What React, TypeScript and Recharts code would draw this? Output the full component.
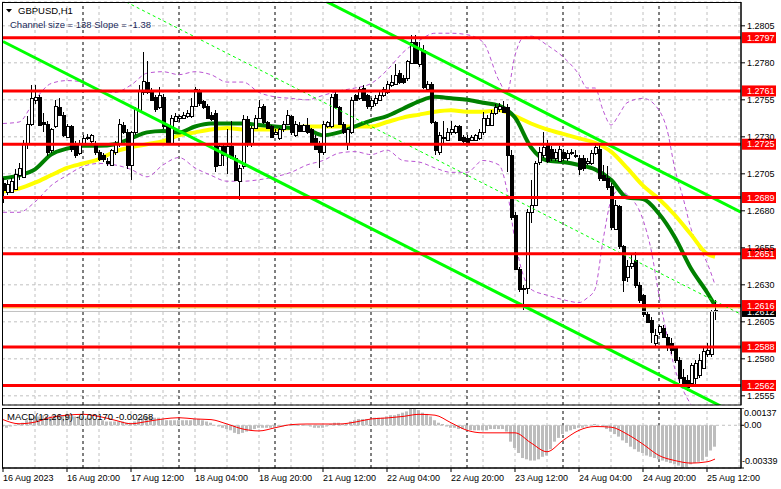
import React from 'react';
import { ComposedChart, Bar, Line, XAxis, YAxis, CartesianGrid, ReferenceLine } from 'recharts';

const FONT = '"Liberation Sans", Arial, sans-serif';

// ---- candles (H1 GBPUSD) ----
const opens = [
  1.2699, 1.2693, 1.2693, 1.2695, 1.2704, 1.2703, 1.2725, 1.2739, 1.2755, 1.2757,
  1.2740, 1.2739, 1.2721, 1.2737, 1.2750, 1.2745, 1.2730, 1.2737, 1.2725, 1.2719,
  1.2726, 1.2729, 1.2727, 1.2725, 1.2720, 1.2718, 1.2714, 1.2711, 1.2720, 1.2725,
  1.2738, 1.2733, 1.2711, 1.2733, 1.2748, 1.2760, 1.2767, 1.2761, 1.2757, 1.2750,
  1.2757, 1.2737, 1.2726, 1.2741, 1.2743, 1.2743, 1.2744, 1.2744, 1.2751, 1.2760,
  1.2754, 1.2751, 1.2745, 1.2746, 1.2711, 1.2724, 1.2718, 1.2724, 1.2716, 1.2700,
  1.2710, 1.2742, 1.2725, 1.2736, 1.2743, 1.2751, 1.2740, 1.2737, 1.2732, 1.2729,
  1.2735, 1.2739, 1.2744, 1.2731, 1.2738, 1.2734, 1.2738, 1.2735, 1.2729, 1.2726,
  1.2720, 1.2737, 1.2737, 1.2759, 1.2750, 1.2739, 1.2726, 1.2733, 1.2758, 1.2756,
  1.2763, 1.2758, 1.2751, 1.2753, 1.2755, 1.2758, 1.2760, 1.2765, 1.2766, 1.2773,
  1.2770, 1.2770, 1.2780, 1.2794, 1.2779, 1.2789, 1.2762, 1.2766, 1.2740, 1.2720,
  1.2729, 1.2728, 1.2733, 1.2733, 1.2737, 1.2730, 1.2729, 1.2728, 1.2728, 1.2729,
  1.2733, 1.2738, 1.2738, 1.2746, 1.2749, 1.2750, 1.2750, 1.2718, 1.2677, 1.2641,
  1.2627, 1.2628, 1.2679, 1.2684, 1.2713, 1.2718, 1.2725, 1.2722, 1.2716, 1.2714,
  1.2720, 1.2716, 1.2719, 1.2718, 1.2716, 1.2716, 1.2712, 1.2712, 1.2719, 1.2722,
  1.2704, 1.2702, 1.2697, 1.2668, 1.2683, 1.2656, 1.2635, 1.2643, 1.2647, 1.2630,
  1.2623, 1.2610, 1.2606, 1.2591, 1.2598, 1.2601, 1.2595, 1.2591, 1.2587, 1.2579,
  1.2568, 1.2566, 1.2564, 1.2567, 1.2569, 1.2574, 1.2583, 1.2583, 1.2613,
];
const highs = [
  1.2702, 1.2701, 1.2702, 1.2708, 1.2712, 1.2728, 1.2744, 1.2765, 1.2765, 1.2758,
  1.2746, 1.2741, 1.2736, 1.2755, 1.2756, 1.2747, 1.2739, 1.2738, 1.2727, 1.2728,
  1.2731, 1.2732, 1.2732, 1.2727, 1.2721, 1.2719, 1.2716, 1.2722, 1.2727, 1.2742,
  1.2740, 1.2735, 1.2734, 1.2750, 1.2765, 1.2787, 1.2781, 1.2763, 1.2758, 1.2764,
  1.2759, 1.2739, 1.2745, 1.2746, 1.2745, 1.2747, 1.2748, 1.2756, 1.2764, 1.2762,
  1.2755, 1.2752, 1.2747, 1.2748, 1.2726, 1.2726, 1.2735, 1.2741, 1.2718, 1.2711,
  1.2745, 1.2744, 1.2737, 1.2745, 1.2755, 1.2752, 1.2741, 1.2738, 1.2735, 1.2736,
  1.2741, 1.2748, 1.2745, 1.2741, 1.2740, 1.2739, 1.2743, 1.2736, 1.2731, 1.2727,
  1.2741, 1.2741, 1.2759, 1.2760, 1.2751, 1.2740, 1.2736, 1.2757, 1.2759, 1.2764,
  1.2765, 1.2759, 1.2756, 1.2758, 1.2760, 1.2764, 1.2768, 1.2772, 1.2779, 1.2775,
  1.2772, 1.2782, 1.2799, 1.2799, 1.2794, 1.2792, 1.2768, 1.2767, 1.2741, 1.2733,
  1.2741, 1.2736, 1.2741, 1.2738, 1.2738, 1.2731, 1.2731, 1.2731, 1.2732, 1.2735,
  1.2747, 1.2745, 1.2748, 1.2752, 1.2753, 1.2754, 1.2752, 1.2721, 1.2679, 1.2642,
  1.2630, 1.2681, 1.2701, 1.2714, 1.2723, 1.2733, 1.2728, 1.2724, 1.2722, 1.2724,
  1.2722, 1.2721, 1.2722, 1.2721, 1.2718, 1.2718, 1.2716, 1.2721, 1.2726, 1.2725,
  1.2711, 1.2710, 1.2699, 1.2687, 1.2684, 1.2657, 1.2647, 1.2650, 1.2652, 1.2632,
  1.2624, 1.2612, 1.2608, 1.2600, 1.2603, 1.2603, 1.2597, 1.2594, 1.2588, 1.2581,
  1.2573, 1.2569, 1.2577, 1.2579, 1.2583, 1.2589, 1.2591, 1.2613, 1.2620,
];
const lows = [
  1.2685, 1.2691, 1.2692, 1.2694, 1.2701, 1.2702, 1.2722, 1.2737, 1.2752, 1.2737,
  1.2733, 1.2717, 1.2719, 1.2736, 1.2744, 1.2730, 1.2729, 1.2720, 1.2716, 1.2718,
  1.2725, 1.2728, 1.2726, 1.2718, 1.2714, 1.2713, 1.2710, 1.2710, 1.2718, 1.2723,
  1.2732, 1.2708, 1.2701, 1.2731, 1.2747, 1.2758, 1.2759, 1.2754, 1.2747, 1.2749,
  1.2735, 1.2725, 1.2725, 1.2740, 1.2740, 1.2742, 1.2743, 1.2743, 1.2750, 1.2751,
  1.2749, 1.2742, 1.2741, 1.2706, 1.2710, 1.2710, 1.2705, 1.2715, 1.2700, 1.2687,
  1.2708, 1.2723, 1.2723, 1.2735, 1.2743, 1.2739, 1.2735, 1.2729, 1.2731, 1.2728,
  1.2733, 1.2738, 1.2731, 1.2730, 1.2733, 1.2733, 1.2732, 1.2725, 1.2721, 1.2709,
  1.2718, 1.2736, 1.2736, 1.2749, 1.2738, 1.2732, 1.2721, 1.2732, 1.2754, 1.2755,
  1.2754, 1.2749, 1.2749, 1.2751, 1.2754, 1.2757, 1.2759, 1.2764, 1.2765, 1.2766,
  1.2766, 1.2768, 1.2779, 1.2779, 1.2777, 1.2762, 1.2760, 1.2739, 1.2718, 1.2718,
  1.2726, 1.2727, 1.2731, 1.2732, 1.2727, 1.2726, 1.2725, 1.2727, 1.2727, 1.2728,
  1.2731, 1.2737, 1.2737, 1.2745, 1.2747, 1.2746, 1.2706, 1.2674, 1.2640, 1.2625,
  1.2613, 1.2624, 1.2672, 1.2683, 1.2711, 1.2716, 1.2712, 1.2714, 1.2714, 1.2713,
  1.2714, 1.2714, 1.2718, 1.2716, 1.2704, 1.2707, 1.2711, 1.2711, 1.2718, 1.2700,
  1.2700, 1.2694, 1.2667, 1.2667, 1.2654, 1.2625, 1.2632, 1.2641, 1.2628, 1.2618,
  1.2608, 1.2604, 1.2591, 1.2589, 1.2596, 1.2594, 1.2585, 1.2583, 1.2577, 1.2564,
  1.2560, 1.2558, 1.2561, 1.2562, 1.2567, 1.2573, 1.2581, 1.2581, 1.2606,
];
const closes = [
  1.2694, 1.2698, 1.2700, 1.2705, 1.2709, 1.2725, 1.2739, 1.2756, 1.2757, 1.2738,
  1.2739, 1.2720, 1.2735, 1.2751, 1.2745, 1.2731, 1.2737, 1.2722, 1.2718, 1.2726,
  1.2729, 1.2730, 1.2731, 1.2720, 1.2715, 1.2715, 1.2712, 1.2721, 1.2725, 1.2739,
  1.2733, 1.2711, 1.2733, 1.2749, 1.2761, 1.2768, 1.2760, 1.2755, 1.2749, 1.2758,
  1.2737, 1.2726, 1.2743, 1.2744, 1.2744, 1.2745, 1.2746, 1.2751, 1.2762, 1.2753,
  1.2750, 1.2743, 1.2742, 1.2710, 1.2724, 1.2718, 1.2724, 1.2716, 1.2701, 1.2709,
  1.2742, 1.2725, 1.2736, 1.2743, 1.2750, 1.2740, 1.2736, 1.2730, 1.2733, 1.2735,
  1.2739, 1.2745, 1.2733, 1.2739, 1.2734, 1.2738, 1.2733, 1.2726, 1.2722, 1.2720,
  1.2739, 1.2740, 1.2757, 1.2750, 1.2739, 1.2733, 1.2735, 1.2755, 1.2755, 1.2762,
  1.2755, 1.2751, 1.2755, 1.2756, 1.2758, 1.2762, 1.2766, 1.2767, 1.2772, 1.2767,
  1.2767, 1.2781, 1.2794, 1.2780, 1.2790, 1.2764, 1.2766, 1.2740, 1.2721, 1.2731,
  1.2730, 1.2733, 1.2735, 1.2737, 1.2728, 1.2727, 1.2726, 1.2730, 1.2731, 1.2733,
  1.2743, 1.2743, 1.2746, 1.2750, 1.2751, 1.2747, 1.2718, 1.2676, 1.2641, 1.2627,
  1.2628, 1.2679, 1.2684, 1.2712, 1.2720, 1.2723, 1.2714, 1.2716, 1.2720, 1.2722,
  1.2716, 1.2719, 1.2720, 1.2717, 1.2708, 1.2709, 1.2714, 1.2719, 1.2723, 1.2702,
  1.2701, 1.2696, 1.2669, 1.2684, 1.2656, 1.2633, 1.2643, 1.2645, 1.2630, 1.2620,
  1.2610, 1.2605, 1.2598, 1.2596, 1.2602, 1.2595, 1.2589, 1.2586, 1.2579, 1.2567,
  1.2564, 1.2561, 1.2576, 1.2577, 1.2579, 1.2585, 1.2586, 1.2612, 1.2612,
];

// ---- moving averages (sampled bars) ----
const maBars = [0, 4, 8, 12, 16, 20, 24, 28, 32, 36, 40, 44, 48, 52, 56, 60, 64, 68, 72, 76, 80, 84, 88, 92, 96, 100, 104, 108, 112, 116, 120, 124, 128, 132, 136, 140, 144, 148, 152, 156, 160, 164, 168, 172, 176, 178];
const maGreen = [1.2702, 1.2704, 1.2708, 1.2718, 1.2722, 1.2724, 1.2724, 1.2725, 1.2729, 1.2733, 1.2734, 1.2733, 1.2737, 1.2739, 1.2739, 1.2739, 1.2738, 1.2737, 1.2736, 1.2735, 1.2731, 1.2733, 1.2737, 1.2741, 1.2744, 1.2749, 1.2754, 1.2757, 1.2756, 1.2755, 1.2753, 1.2751, 1.2743, 1.2723, 1.2714, 1.2713, 1.2711, 1.2708, 1.2701, 1.2689, 1.2688, 1.2678, 1.2662, 1.2641, 1.2625, 1.2616];
const maYellow = [1.2693, 1.2695, 1.2699, 1.2704, 1.2709, 1.2712, 1.2715, 1.2720, 1.2723, 1.2725, 1.2727, 1.2731, 1.2733, 1.2735, 1.2736, 1.2735, 1.2735, 1.2735, 1.2736, 1.2737, 1.2737, 1.2737, 1.2737, 1.2737, 1.2740, 1.2743, 1.2745, 1.2747, 1.2748, 1.2747, 1.2747, 1.2748, 1.2744, 1.2739, 1.2735, 1.2732, 1.2729, 1.2726, 1.2720, 1.2709, 1.2697, 1.2688, 1.2677, 1.2664, 1.2651, 1.2649];

// ---- envelopes (dashed violet) ----
const upperBars = [0, 4, 8, 12, 16, 20, 24, 28, 32, 36, 40, 44, 48, 52, 56, 60, 64, 68, 72, 76, 80, 84, 88, 92, 96, 100, 104, 108, 112, 116, 120, 124, 126, 128, 130, 132, 136, 140, 144, 146, 148, 150, 152, 154, 156, 160, 164, 166, 168, 170, 172, 174, 176, 178];
const upperBand = [1.2739, 1.2740, 1.2755, 1.2766, 1.2768, 1.2767, 1.2762, 1.2760, 1.2765, 1.2773, 1.2774, 1.2772, 1.2774, 1.2772, 1.2767, 1.2767, 1.2760, 1.2757, 1.2756, 1.2755, 1.2758, 1.2761, 1.2763, 1.2766, 1.2775, 1.2787, 1.2795, 1.2800, 1.2800, 1.2799, 1.2794, 1.2768, 1.2760, 1.2785, 1.2797, 1.2798, 1.2792, 1.2784, 1.2772, 1.2763, 1.2763, 1.2748, 1.2738, 1.2745, 1.2753, 1.2756, 1.2748, 1.2735, 1.2708, 1.2689, 1.2668, 1.2655, 1.2645, 1.2630];
const lowerBars = [0, 4, 8, 12, 16, 20, 24, 28, 32, 36, 40, 44, 48, 52, 56, 60, 64, 68, 72, 76, 80, 84, 88, 92, 96, 100, 104, 108, 112, 116, 120, 124, 126, 128, 130, 132, 136, 140, 144, 146, 148, 150, 152, 154, 156, 160, 162, 164, 166, 168, 170, 172];
const lowerBand = [1.2679, 1.2679, 1.2686, 1.2697, 1.2704, 1.2710, 1.2712, 1.2711, 1.2708, 1.2703, 1.2711, 1.2716, 1.2709, 1.2704, 1.2700, 1.2700, 1.2701, 1.2703, 1.2706, 1.2711, 1.2714, 1.2719, 1.2720, 1.2718, 1.2721, 1.2714, 1.2713, 1.2709, 1.2706, 1.2706, 1.2714, 1.2711, 1.2694, 1.2660, 1.2637, 1.2627, 1.2623, 1.2620, 1.2618, 1.2621, 1.2627, 1.2660, 1.2687, 1.2694, 1.2691, 1.2674, 1.2654, 1.2623, 1.2596, 1.2573, 1.2559, 1.2549];

// ---- MACD(12,26,9) ----
const macdHist = [
  -0.0001, -0.0002, -0.0001, 0.00003, 0.0001, 0.0002, 0.0004, 0.0006, 0.0007, 0.0007,
  0.0008, 0.0007, 0.0007, 0.0008, 0.0008, 0.0008, 0.0008, 0.0007, 0.0007, 0.0007,
  0.0007, 0.0006, 0.0006, 0.0005, 0.0005, 0.0004, 0.0003, 0.0003, 0.0003, 0.0003,
  0.0003, 0.0002, 0.0002, 0.0003, 0.0005, 0.0006, 0.0007, 0.0007, 0.0006, 0.0006,
  0.0005, 0.0004, 0.0004, 0.0004, 0.0004, 0.0004, 0.0004, 0.0004, 0.0005, 0.0005,
  0.0004, 0.0003, 0.0002, 0.00003, -0.0001, -0.0002, -0.0003, -0.0004, -0.0006, -0.0007,
  -0.0006, -0.0005, -0.0004, -0.0003, -0.0002, -0.0002, -0.0002, -0.0002, -0.0002, -0.0001,
  -0.0001, -0.00005, -0.00005, -0.00005, -0.00005, -0.00005, -0.00005, -0.0001, -0.0002, -0.0002,
  -0.0002, -0.0001, 0.0001, 0.0002, 0.0002, 0.0001, 0.0001, 0.0003, 0.0004, 0.0005,
  0.0005, 0.0005, 0.0005, 0.0006, 0.0006, 0.0006, 0.0007, 0.0008, 0.0008, 0.0009,
  0.0010, 0.0011, 0.0013, 0.00137, 0.0012, 0.0010, 0.0009, 0.0007, 0.0004, 0.0002,
  0.0001, -0.0001, -0.0002, -0.0002, -0.0003, -0.0003, -0.0004, -0.0004, -0.0004, -0.0004,
  -0.0004, -0.0004, -0.0003, -0.0003, -0.0003, -0.0003, -0.0005, -0.0013, -0.0018, -0.0022,
  -0.0026, -0.0027, -0.0028, -0.0028, -0.0027, -0.0025, -0.0024, -0.0019, -0.0013, -0.0010,
  -0.0007, -0.0005, -0.0004, -0.0003, -0.0002, -0.0002, -0.0001, 0.00003, 0.0001, 0.00003,
  -0.0001, -0.0003, -0.0005, -0.0007, -0.0009, -0.0012, -0.0014, -0.0017, -0.0019, -0.0021,
  -0.0022, -0.0024, -0.0025, -0.0026, -0.0027, -0.0028, -0.0029, -0.0030, -0.0031, -0.0032,
  -0.00339, -0.0033, -0.0031, -0.0030, -0.0029, -0.0028, -0.0025, -0.0020, -0.0017,
];
const signalBars = maBars;
const macdSignal = [0.00045, 0.00012, 0.00025, 0.00063, 0.0008, 0.00087, 0.0007, 0.0004, 0.00012, 0.0003, 0.0005, 0.0006, 0.0005, 0.00045, 0.0001, -0.0003, -0.00045, -0.0002, 0.00005, 0.0001, 0.0001, 0.0001, 0.00025, 0.0005, 0.00058, 0.0007, 0.00087, 0.0008, 0.0002, -0.0004, -0.0006, -0.0006, -0.0006, -0.0014, -0.0021, -0.0012, -0.0004, -0.0001, -0.00015, -0.0007, -0.0015, -0.0024, -0.0028, -0.003, -0.0029, -0.00268];

// ---- axes, levels, channel ----
const priceTicks = [1.2555, 1.258, 1.2605, 1.263, 1.2655, 1.268, 1.2705, 1.273, 1.2755, 1.278, 1.2805];
const levels = [1.2797, 1.2761, 1.2725, 1.2689, 1.2651, 1.2616, 1.2588, 1.2562];
const bidPrice = 1.2612;
const askLine = 1.26145;
const timeTickBars = [0, 16, 32, 48, 64, 80, 96, 112, 128, 144, 160, 176];
const timeLabels = ['16 Aug 2023', '16 Aug 20:00', '17 Aug 12:00', '18 Aug 04:00', '18 Aug 20:00', '21 Aug 12:00', '22 Aug 04:00', '22 Aug 20:00', '23 Aug 12:00', '24 Aug 04:00', '24 Aug 20:00', '25 Aug 12:00'];
const gridBars = [8, 16, 24, 32, 40, 48, 56, 64, 72, 80, 88, 96, 104, 112, 120, 128, 136, 144, 152, 160, 168, 176, 184];
const daySeparators = [20, 44, 68, 92, 116, 140, 164];
const channelBars = [0, 184.5];
const channelLower = [1.27944, 1.25411];
const channelMiddle = [1.28634, 1.26101];
const channelUpper = [1.29324, 1.26791];
const macdTicks = [-0.00339, 0, 0.00137];

const rows: any[] = opens.map((o, i) => ({
  i, o, h: highs[i], l: lows[i], c: closes[i], hist: macdHist[i],
}));
maBars.forEach((b, k) => { rows[b].maG = maGreen[k]; rows[b].maY = maYellow[k]; });
upperBars.forEach((b, k) => { rows[b].bbU = upperBand[k]; });
lowerBars.forEach((b, k) => { rows[b].bbL = lowerBand[k]; });
signalBars.forEach((b, k) => { rows[b].sig = macdSignal[k]; });

const Candle = (props: any) => {
  const { x, width, payload } = props;
  let { y, height } = props;
  if (!payload || y == null || height == null) return null;
  if (height < 0) { y = y + height; height = -height; }
  const { o, c, h, l } = payload;
  const cx = Math.round(x + width / 2) + 0.5;
  const span = h - l || 1e-9;
  const yOf = (p: number) => y + ((h - p) / span) * height;
  const top = Math.round(yOf(Math.max(o, c))) + 0.5;
  const bot = Math.round(yOf(Math.min(o, c))) + 0.5;
  const up = c > o;
  return (
    <g shapeRendering="crispEdges">
      <line x1={cx} x2={cx} y1={y} y2={y + height} stroke="#000" strokeWidth={1} />
      <rect x={cx - 1.5} y={top} width={3} height={Math.max(bot - top, 0.01)}
        fill={up ? '#fff' : '#000'} stroke="#000" strokeWidth={1} />
    </g>
  );
};

const tag = (bg: string, text: string) => (p: any) => {
  const vb = p.viewBox || {};
  const x = (vb.x || 0) + (vb.width || 0) + 1;
  const y = vb.y || 0;
  return (
    <g>
      <rect x={x} y={y - 5.5} width={34} height={11} fill={bg} />
      <text x={x + 5} y={y} dy="0.35em" fill="#fff" fontSize={9} fontFamily={FONT}>{text}</text>
    </g>
  );
};

const TimeTick = (p: any) => {
  const idx = timeTickBars.indexOf(p.payload.value);
  return (
    <text x={p.x} y={p.y} dy={9} textAnchor="start" fill="#000" fontSize={9} fontFamily={FONT}>
      {idx >= 0 ? timeLabels[idx] : ''}
    </text>
  );
};

const MacdTick = (p: any) => {
  const v = p.payload.value;
  const label = v === 0 ? '0.00' : v.toFixed(5);
  const dy = v > 0.001 ? 5 : v < -0.003 ? -7 : 0;
  return (
    <text x={v < 0 ? p.x - 2 : p.x} y={p.y + dy} dy="0.35em" textAnchor="start" fill="#000" fontSize={9} fontFamily={FONT}>
      {label}
    </text>
  );
};

const GRAY = '#c0c0c0';

export default function App() {
  return (
    <div style={{ position: 'absolute', left: 0, top: 0, width: 781, height: 489, background: '#fff', overflow: 'hidden' }}>
      <div style={{ position: 'absolute', left: 0, top: 0 }}>
        <ComposedChart width={781} height={408} data={rows} margin={{ top: 2, right: 0, bottom: 3, left: 2 }}>
          <CartesianGrid horizontal vertical={false} stroke={GRAY} strokeDasharray="3 3" />
          <XAxis dataKey="i" type="number" domain={[-0.25, 184.5]} hide allowDataOverflow />
          <YAxis orientation="right" width={40} domain={[1.25488, 1.28211]} ticks={priceTicks} interval={0}
            allowDataOverflow tickFormatter={(v: number) => v.toFixed(4)} tickSize={4} tickMargin={2}
            axisLine={{ stroke: '#000' }} tickLine={{ stroke: '#000' }}
            tick={{ fill: '#000', fontSize: 9, fontFamily: FONT }} />
          {gridBars.map((b) => (
            <ReferenceLine key={'g' + b} x={b} stroke={GRAY} strokeDasharray="3 3" zIndex={-60} />
          ))}
          {daySeparators.map((b) => (
            <ReferenceLine key={'d' + b} x={b} stroke="#000" strokeDasharray="3 3" zIndex={-50} />
          ))}
          <Line dataKey="bbU" stroke="#ba55d3" strokeWidth={1} strokeDasharray="4 3" dot={false} connectNulls type="monotone" isAnimationActive={false} zIndex={100} />
          <Line dataKey="bbL" stroke="#ba55d3" strokeWidth={1} strokeDasharray="4 3" dot={false} connectNulls type="monotone" isAnimationActive={false} zIndex={100} />
          <Line dataKey="maY" stroke="#ffff00" strokeWidth={4} dot={false} connectNulls type="monotone" isAnimationActive={false} zIndex={110} />
          <Line dataKey="maG" stroke="#008000" strokeWidth={4} dot={false} connectNulls type="monotone" isAnimationActive={false} zIndex={120} />
          <Bar dataKey={(d: any) => [d.l, d.h]} shape={Candle} barSize={3} isAnimationActive={false} zIndex={200} />
          <ReferenceLine y={bidPrice} stroke="#c0c0c0" strokeWidth={1} zIndex={290} label={tag('#000', bidPrice.toFixed(4))} />
          <ReferenceLine y={askLine} stroke="#ff8c00" strokeWidth={1} zIndex={291} />
          <ReferenceLine segment={[{ x: channelBars[0], y: channelMiddle[0] }, { x: channelBars[1], y: channelMiddle[1] }]}
            stroke="#00ff00" strokeWidth={1} strokeDasharray="3 3" ifOverflow="hidden" zIndex={300} />
          <ReferenceLine segment={[{ x: channelBars[0], y: channelLower[0] }, { x: channelBars[1], y: channelLower[1] }]}
            stroke="#00ff00" strokeWidth={3} ifOverflow="hidden" zIndex={300} />
          <ReferenceLine segment={[{ x: channelBars[0], y: channelUpper[0] }, { x: channelBars[1], y: channelUpper[1] }]}
            stroke="#00ff00" strokeWidth={3} ifOverflow="hidden" zIndex={300} />
          {levels.map((lv) => (
            <ReferenceLine key={'l' + lv} y={lv} stroke="#ff0000" strokeWidth={3} zIndex={310} label={tag('#ff0000', lv.toFixed(4))} />
          ))}
        </ComposedChart>
      </div>
      <div style={{ position: 'absolute', left: 0, top: 408 }}>
        <ComposedChart width={781} height={81} data={rows} margin={{ top: 0, right: 0, bottom: 0, left: 2 }}>
          <CartesianGrid horizontal vertical={false} stroke={GRAY} strokeDasharray="3 3" />
          <XAxis dataKey="i" type="number" domain={[-0.25, 184.5]} allowDataOverflow ticks={timeTickBars} interval={0}
            height={21} tickSize={4} tickMargin={0} axisLine={{ stroke: '#000' }} tickLine={{ stroke: '#000' }} tick={TimeTick} />
          <YAxis orientation="right" width={40} domain={[-0.00339, 0.00137]} ticks={macdTicks} interval={0}
            allowDataOverflow tickSize={3} tickMargin={0} axisLine={{ stroke: '#000' }} tickLine={{ stroke: '#000' }} tick={MacdTick} />
          {gridBars.map((b) => (
            <ReferenceLine key={'mg' + b} x={b} stroke={GRAY} strokeDasharray="3 3" zIndex={-60} />
          ))}
          {daySeparators.map((b) => (
            <ReferenceLine key={'md' + b} x={b} stroke="#000" strokeDasharray="3 3" zIndex={-50} />
          ))}
          <Bar dataKey="hist" fill="#bdbdbd" barSize={3} isAnimationActive={false} zIndex={200} />
          <Line dataKey="sig" stroke="#ff0000" strokeWidth={1} dot={false} connectNulls type="monotone" isAnimationActive={false} zIndex={300} />
        </ComposedChart>
      </div>
      <svg width={781} height={489} style={{ position: 'absolute', left: 0, top: 0, pointerEvents: 'none' }}>
        <rect x={2.5} y={2.5} width={738.5} height={402.5} fill="none" stroke="#000" strokeWidth={1} />
        <rect x={2.5} y={408.5} width={738.5} height={59.5} fill="none" stroke="#000" strokeWidth={1} />
        <polygon points="6,9 12,9 9,12.5" fill="#000" />
        <text x={18} y={14} fontSize={9.5} fontFamily={FONT} fill="#000">GBPUSD,H1</text>
        <text x={10} y={27.5} fontSize={9.5} fontFamily={FONT} fill="#1a2a5a">Channel size = 138 Slope = -1.38</text>
        <text x={7} y={420} fontSize={9.5} fontFamily={FONT} fill="#000">MACD(12,26,9) -0.00170 -0.00268</text>
      </svg>
    </div>
  );
}
